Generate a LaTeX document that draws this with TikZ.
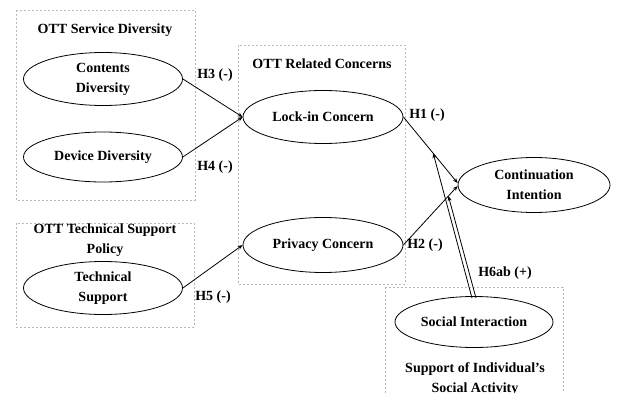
\documentclass[tikz,border=0pt]{standalone}
\usepackage{fontspec}
\setmainfont{Liberation Serif}
\usetikzlibrary{shapes.geometric,arrows.meta,calc}
\begin{document}
\begin{tikzpicture}[x=1pt,y=-1pt,
  every node/.style={font=\bfseries\fontsize{14}{20}\selectfont},
  ell/.style={draw,ellipse,line width=0.8pt,inner sep=0pt,align=center},
  grp/.style={draw=gray!55,dash pattern=on 2pt off 2pt,line width=0.6pt},
  arr/.style={line width=0.8pt,-{Stealth[length=5pt,width=4pt]}},
  lab/.style={inner sep=0pt}]
\useasboundingbox (0,0) rectangle (618,393);
\fill[white] (0,0) rectangle (618,393);
% groups
\draw[grp] (16,10) rectangle (195,200);
\draw[grp] (238,45) rectangle (405,284);
\draw[grp] (16,223) rectangle (194,327);
\draw[grp] (385,287) rectangle (563,400);
% group titles
\node[lab] (t1) at (105,30) {OTT Service Diversity};
\node[lab] (t2) at (322,64) {OTT Related Concerns};
\node[lab,align=center] (t3) at (105,240) {OTT Technical Support\\Policy};
\node[lab,align=center] (t4) at (475,379) {Support of Individual's\\Social Activity};
% constructs
\node[ell,minimum width=159pt,minimum height=53pt] (cd) at (103,79) {Contents\\Diversity};
\node[ell,minimum width=159pt,minimum height=50pt] (dd) at (103,157) {Device Diversity};
\node[ell,minimum width=159pt,minimum height=53pt] (ts) at (103,288) {Technical\\Support};
\node[ell,minimum width=160pt,minimum height=53pt] (lc) at (323,117) {Lock-in Concern};
\node[ell,minimum width=160pt,minimum height=55pt] (pc) at (323,245) {Privacy Concern};
\node[ell,minimum width=152pt,minimum height=55pt] (ci) at (534,185) {Continuation\\Intention};
\node[ell,minimum width=158pt,minimum height=51pt] (si) at (474,322) {Social Interaction};
% paths
\draw[arr] (cd.east) -- (lc.west);
\draw[arr] (dd.east) -- (lc.west);
\draw[arr] (ts.east) -- (pc.west);
\draw[arr] (lc.east) -- ([yshift=2pt]ci.west);
\draw[arr] (pc.east) -- ([yshift=-1pt]ci.west);
\coordinate (m1) at ($(lc.east)!0.55!([yshift=2pt]ci.west)$);
\coordinate (m2) at ($(pc.east)!0.83!([yshift=-1pt]ci.west)$);
\draw[arr] ([xshift=-2pt,yshift=-2pt]si.north) -- (m1);
\draw[arr] ([xshift=2pt,yshift=-2pt]si.north) -- (m2);
% labels
\node[lab] (h3) at (215,75) {H3 (-)};
\node[lab] (h4) at (215,167) {H4 (-)};
\node[lab] (h5) at (213,297) {H5 (-)};
\node[lab] (h1) at (427,115) {H1 (-)};
\node[lab] (h2) at (425,245) {H2 (-)};
\node[lab] (h6) at (505,273) {H6ab (+)};
\end{tikzpicture}
\end{document}
